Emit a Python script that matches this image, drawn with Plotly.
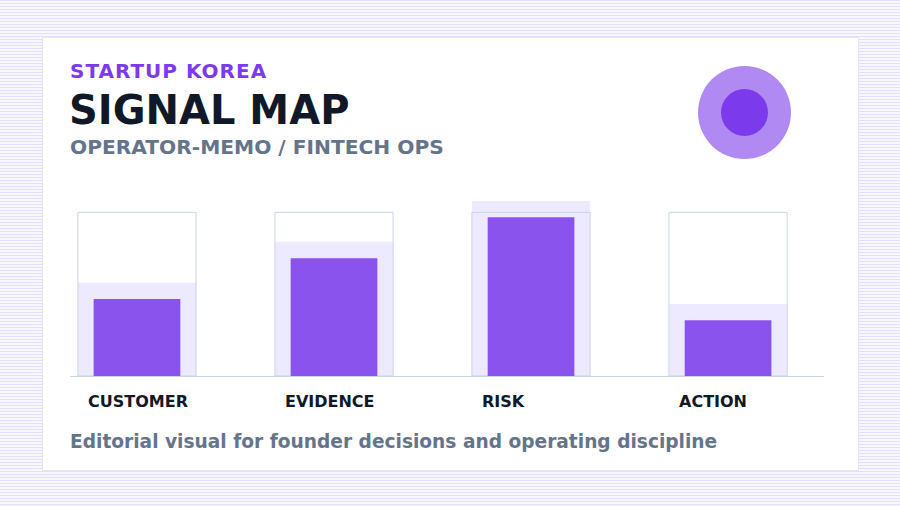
import plotly.graph_objects as go

# ---- data ----
categories = ["CUSTOMER", "EVIDENCE", "RISK", "ACTION"]
signal_values = [47, 72, 97, 34]      # dark bars
band_values = [57, 82, 107, 44]       # light halo bars
track_max = [100, 100, 100, 100]      # outline track
eyebrow = "STARTUP KOREA"
title = "SIGNAL MAP"
subtitle = "OPERATOR-MEMO / FINTECH OPS"
footer = "Editorial visual for founder decisions and operating discipline"

W, H = 900, 506
L, R, T, B = 70, 824, 196, 376  # plot area in px
PW, PH = R - L, B - T

def px_x(x):
    return (x - L) / PW

def px_y(y):
    return (B - y) / PH

FONT = "DejaVu Sans"
xs = list(range(len(categories)))

fig = go.Figure()
fig.add_trace(go.Bar(x=xs, y=track_max, width=0.6, marker=dict(color="#ffffff", line=dict(width=0)),
                     hoverinfo="skip", showlegend=False))
fig.add_trace(go.Bar(x=xs, y=band_values, width=0.6, marker=dict(color="#ede9fe", line=dict(width=0)),
                     hoverinfo="skip", showlegend=False))
fig.add_trace(go.Bar(x=xs, y=track_max, width=0.6,
                     marker=dict(color="rgba(0,0,0,0)", line=dict(width=1, color="#cbd5e1")),
                     hoverinfo="skip", showlegend=False))
fig.add_trace(go.Bar(x=xs, y=signal_values, width=0.44, marker=dict(color="#8b53ed", line=dict(width=0)),
                     showlegend=False))

shapes = []
# striped background
for yy in range(0, H, 3):
    shapes.append(dict(type="line", xref="paper", yref="paper",
                       x0=px_x(0), x1=px_x(W), y0=px_y(yy + 0.5), y1=px_y(yy + 0.5),
                       line=dict(color="#e6defd", width=1), layer="below"))
# card
shapes.append(dict(type="rect", xref="paper", yref="paper",
                   x0=px_x(42.5), x1=px_x(858.5), y0=px_y(37.5), y1=px_y(470.5),
                   fillcolor="#ffffff", line=dict(color="#e4e2f3", width=1), layer="below"))
# badge circles
cx, cy = 744.5, 112.5
for r, col in [(46.5, "#b089f2"), (23.5, "#7c3aed")]:
    shapes.append(dict(type="circle", xref="paper", yref="paper",
                       x0=px_x(cx - r), x1=px_x(cx + r), y0=px_y(cy + r), y1=px_y(cy - r),
                       fillcolor=col, line=dict(width=0), layer="above"))

annotations = []
def text(t, x, y, size, color):
    annotations.append(dict(text=t, xref="paper", yref="paper", x=px_x(x), y=px_y(y),
                            xanchor="left", yanchor="middle", showarrow=False,
                            font=dict(family=FONT, size=size, color=color, weight="bold")))

text('<span style="letter-spacing:1px">' + eyebrow + '</span>', 68, 71, 20, "#7c3aed")
text(title, 67, 110, 40, "#111827")
text(subtitle, 68, 147, 20.2, "#64748b")
text(footer, 68, 441, 18.6, "#64748b")

for i, c in enumerate(categories):
    annotations.append(dict(text=c, xref="x", yref="paper", x=i - 0.3, y=px_y(401),
                            xanchor="left", yanchor="middle", xshift=8, showarrow=False,
                            font=dict(family=FONT, size=16, color="#111827", weight="bold")))

fig.update_layout(
    width=W, height=H, barmode="overlay",
    margin=dict(l=L, r=W - R, t=T, b=H - B, pad=0),
    paper_bgcolor="#f8f6ff", plot_bgcolor="rgba(0,0,0,0)",
    shapes=shapes, annotations=annotations,
    xaxis=dict(range=[-0.34, 3.487], showgrid=False, zeroline=False, showticklabels=False,
               showline=True, linecolor="#cbd5e1", linewidth=1, ticks="", fixedrange=True),
    yaxis=dict(range=[0, 110], showgrid=False, zeroline=False, showticklabels=False,
               showline=False, ticks="", fixedrange=True),
    font=dict(family=FONT),
)
fig.write_html("out.html", config=dict(displayModeBar=False))
